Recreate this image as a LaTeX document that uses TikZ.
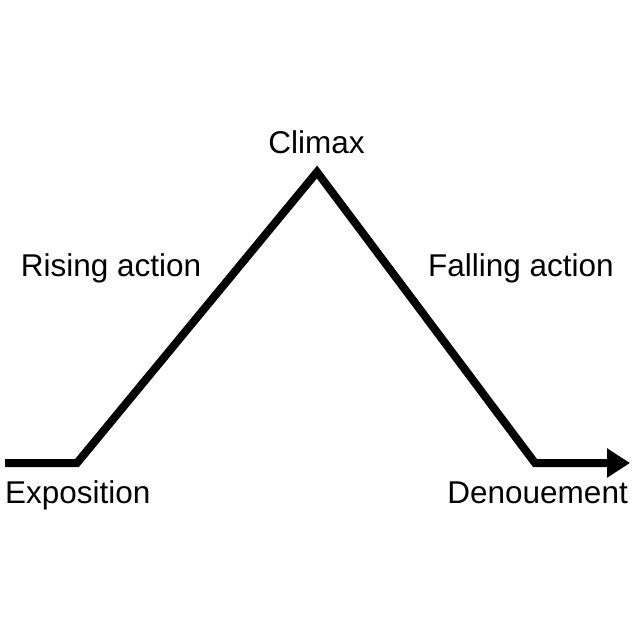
\documentclass[tikz,border=0pt]{standalone}
\usepackage{fontspec}
\setmainfont{Liberation Sans}
\usetikzlibrary{arrows.meta}
\begin{document}
\begin{tikzpicture}[x=1pt,y=-1pt,
  lbl/.style={inner sep=0pt,font=\fontsize{31.5}{36}\selectfont},
  plot/.style={line width=8pt,line join=miter}]
\useasboundingbox (0,0) rectangle (640,640);
\coordinate (s) at (5,463);
\coordinate (e) at (77,463);
\coordinate (c) at (317,172);
\coordinate (d) at (535,463);
\coordinate (t) at (630,463);
\draw[plot,-{Triangle[length=23pt,width=28pt]}] (s) -- (e) -- (c) -- (d) -- (t);
\node[lbl,anchor=base] (climax) at (316.5,153) {Climax};
\node[lbl,anchor=base] (rising) at (111,276) {Rising action};
\node[lbl,anchor=base] (falling) at (521,276) {Falling action};
\node[lbl,anchor=base west] (expo) at (5,503) {Exposition};
\node[lbl,anchor=base east] (deno) at (628,503) {Denouement};
\end{tikzpicture}
\end{document}
